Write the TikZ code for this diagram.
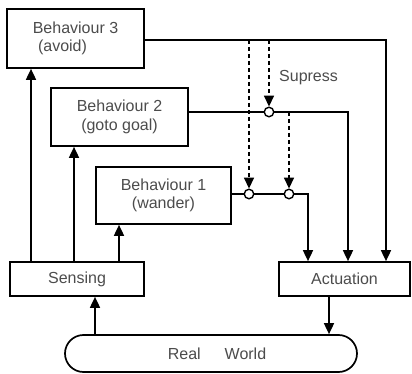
\documentclass[tikz,border=0pt]{standalone}
\usepackage{fontspec}
\setmainfont{Liberation Sans}
\usetikzlibrary{arrows.meta,shapes.misc}
\begin{document}
\begin{tikzpicture}[x=1pt,y=-1pt,
  box/.style={draw=black,line width=1.7pt,rectangle,inner sep=0pt,align=center,
    text=black!70,font=\fontsize{16}{18.5}\selectfont},
  arr/.style={line width=1.7pt,-{Triangle[length=11pt,width=10pt]}},
  darr/.style={line width=1.7pt,dash pattern=on 4.5pt off 2.5pt,-{Triangle[length=11pt,width=10pt]}},
  sw/.style={circle,draw=black,fill=white,line width=1.4pt,inner sep=0pt,minimum size=9.5pt},
  lbl/.style={text=black!70,font=\fontsize{16}{18}\selectfont,inner sep=0pt}]
\useasboundingbox[fill=white] (0,0) rectangle (412,374);
% boxes
\node[box,minimum width=137pt,minimum height=59pt] (b3) at (75.5,38.5) {Behaviour 3\\\hspace*{-26pt}(avoid)};
\node[box,minimum width=137pt,minimum height=58pt] (b2) at (119.5,117) {Behaviour 2\\(goto goal)};
\node[box,minimum width=135pt,minimum height=57pt] (b1) at (163.5,195.5) {Behaviour 1\\(wander)};
\node[box,minimum width=134pt,minimum height=34pt] (sens) at (77,279) {Sensing};
\node[box,minimum width=131pt,minimum height=34pt] (act) at (344.5,279) {Actuation};
\node[box,rounded rectangle,minimum width=292pt,minimum height=37pt] (world) at (211,353.5) {};
\node[lbl] (wtext) at (217,354) {Real\hspace{24pt}World};
% sensing
\draw[arr] (world.north -| 95,0) -- (sens.south -| 95,0);
\draw[arr] (sens.north -| 31,0) -- (b3.south -| 31,0);
\draw[arr] (sens.north -| 74,0) -- (b2.south -| 74,0);
\draw[arr] (sens.north -| 119,0) -- (b1.south -| 119,0);
% outputs
\draw[arr] (b3.east |- 0,40) -| (act.north -| 386,0);
\draw[arr] (b2.east |- 0,112) -| (act.north -| 348,0);
\draw[arr] (b1.east |- 0,194) -| (act.north -| 308,0);
\draw[arr] (act.south -| 329,0) -- (world.north -| 329,0);
% suppression nodes
\node[sw] (s1) at (269,112) {};
\node[sw] (s2) at (249,194) {};
\node[sw] (s3) at (289,194) {};
\coordinate (d1) at (269,40);
\coordinate (d2) at (249,40);
\coordinate (d3) at (289,112);
\draw[darr] (d1) -- (s1.north);
\draw[darr] (d2) -- (s2.north);
\draw[darr] (d3) -- (s3.north);
\node[lbl,anchor=west] (sup) at (279,78) {Supress};
\end{tikzpicture}
\end{document}
